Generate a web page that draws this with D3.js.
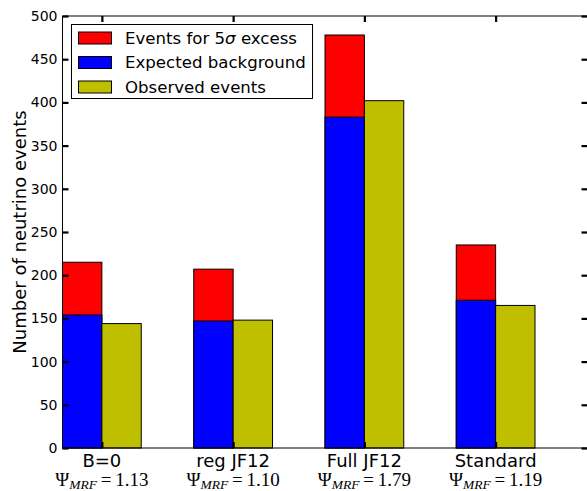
<!DOCTYPE html>
<html>
<head>
<meta charset="utf-8">
<script src="https://cdn.jsdelivr.net/npm/d3@7"></script>
<style>
  html, body { margin: 0; padding: 0; background: #fff; }
  svg { display: block; }
</style>
</head>
<body>
<svg id="chart" width="587" height="491"></svg>
<script>
// Neutrino event counts per magnetic-field model
const categories = ["B=0", "reg JF12", "Full JF12", "Standard"];
const psiValues = ["1.13", "1.10", "1.79", "1.19"];
const excess5sigma = [215, 207, 478, 235];
const expectedBackground = [154, 147, 383, 171];
const observedEvents = [144, 148, 402, 165];
const yTicks = [0, 50, 100, 150, 200, 250, 300, 350, 400, 450, 500];

const colors = { excess: "#ff0000", background: "#0000ff", observed: "#bfbf00" };

const svg = d3.select("#chart");
const plotLeft = 62.5, plotRight = 587.5, plotTop = 16, plotBottom = 448;

const x = d3.scaleLinear().domain([0, 4]).range([plotLeft, plotRight]);
const y = d3.scaleLinear().domain([0, 500]).range([plotBottom, plotTop]);
const barW = 0.3;

const sans = "DejaVu Sans, sans-serif";

// Bars: 5-sigma excess behind background, observed beside them
const g = svg.append("g");
categories.forEach((c, i) => {
  const layers = [
    { x0: i, x1: i + barW, v: excess5sigma[i], fill: colors.excess },
    { x0: i, x1: i + barW, v: expectedBackground[i], fill: colors.background },
    { x0: i + barW, x1: i + 2 * barW, v: observedEvents[i], fill: colors.observed }
  ];
  layers.forEach(d => {
    g.append("rect")
      .attr("x", x(d.x0))
      .attr("y", y(d.v))
      .attr("width", x(d.x1) - x(d.x0))
      .attr("height", y(0) - y(d.v))
      .attr("fill", d.fill)
      .attr("stroke", "#000")
      .attr("stroke-width", 1);
  });
});

// Spines
const spine = (x1, y1, x2, y2) => svg.append("line")
  .attr("x1", x1).attr("y1", y1).attr("x2", x2).attr("y2", y2)
  .attr("stroke", "#000").attr("stroke-width", 1);
spine(plotLeft, plotTop, plotLeft, plotBottom);
spine(plotLeft, plotTop, plotRight, plotTop);
spine(plotLeft, plotBottom, plotRight, plotBottom);
spine(plotRight, plotTop, plotRight, plotBottom);

// Y axis (inward ticks on both sides)
const styleTicks = sel => {
  sel.select(".domain").remove();
  sel.selectAll(".tick line").attr("stroke", "#000").attr("stroke-width", 2.2);
};
svg.append("g").attr("transform", `translate(${plotLeft},0)`)
  .call(d3.axisRight(y).tickValues(yTicks).tickSize(6).tickFormat("")).call(styleTicks);
svg.append("g").attr("transform", `translate(${plotRight},0)`)
  .call(d3.axisLeft(y).tickValues(yTicks).tickSize(6).tickFormat("")).call(styleTicks);

svg.append("g").selectAll("text").data(yTicks).join("text")
  .attr("x", plotLeft - 5)
  .attr("y", d => y(d))
  .attr("dy", "0.36em")
  .attr("text-anchor", "end")
  .attr("font-family", sans)
  .attr("font-size", 14)
  .attr("fill", "#000")
  .text(d => d);

// X axis ticks at the group centres (top and bottom, inward)
const xTickVals = categories.map((c, i) => i + barW);
svg.append("g").attr("transform", `translate(0,${plotBottom})`)
  .call(d3.axisTop(x).tickValues(xTickVals).tickSize(6).tickFormat("")).call(styleTicks);
svg.append("g").attr("transform", `translate(0,${plotTop})`)
  .call(d3.axisBottom(x).tickValues(xTickVals).tickSize(6).tickFormat("")).call(styleTicks);

// Category labels with the Psi_MRF values underneath
categories.forEach((c, i) => {
  const cx = x(i + barW);
  svg.append("text")
    .attr("x", cx).attr("y", 467)
    .attr("text-anchor", "middle")
    .attr("font-family", sans)
    .attr("font-size", 18)
    .attr("fill", "#000")
    .text(c);
  const t = svg.append("text")
    .attr("x", cx).attr("y", 486)
    .attr("text-anchor", "middle")
    .attr("font-family", "Liberation Serif, DejaVu Serif, serif")
    .attr("font-size", 19)
    .attr("fill", "#000");
  t.append("tspan").text("\u03A8");
  t.append("tspan").attr("font-style", "italic").attr("font-size", 13.5).attr("dy", 3).text("MRF");
  t.append("tspan").attr("dy", -3).text("\u2009=\u2009" + psiValues[i]);
});

// Y axis title
svg.append("text")
  .attr("transform", `translate(26,${(plotTop + plotBottom) / 2}) rotate(-90)`)
  .attr("text-anchor", "middle")
  .attr("font-family", sans)
  .attr("font-size", 18)
  .attr("fill", "#000")
  .text("Number of neutrino events");

// Legend
const legendItems = [
  { label: ["Events for 5", "\u03C3", " excess"], fill: colors.excess },
  { label: ["Expected background"], fill: colors.background },
  { label: ["Observed events"], fill: colors.observed }
];
const lg = svg.append("g");
lg.append("rect").attr("x", 71.5).attr("y", 24.5).attr("width", 241).attr("height", 74)
  .attr("fill", "#fff").attr("stroke", "#000").attr("stroke-width", 1);
legendItems.forEach((d, i) => {
  const cy = 38 + i * 24.5;
  lg.append("rect").attr("x", 78.5).attr("y", cy - 6).attr("width", 33).attr("height", 12)
    .attr("fill", d.fill).attr("stroke", "#000").attr("stroke-width", 1);
  const t = lg.append("text").attr("x", 125).attr("y", cy).attr("dy", "0.36em")
    .attr("font-family", sans).attr("font-size", 16.6).attr("fill", "#000");
  d.label.forEach(s => {
    const ts = t.append("tspan").text(s);
    if (s === "\u03C3") ts.attr("font-style", "italic");
  });
});
</script>
</body>
</html>
